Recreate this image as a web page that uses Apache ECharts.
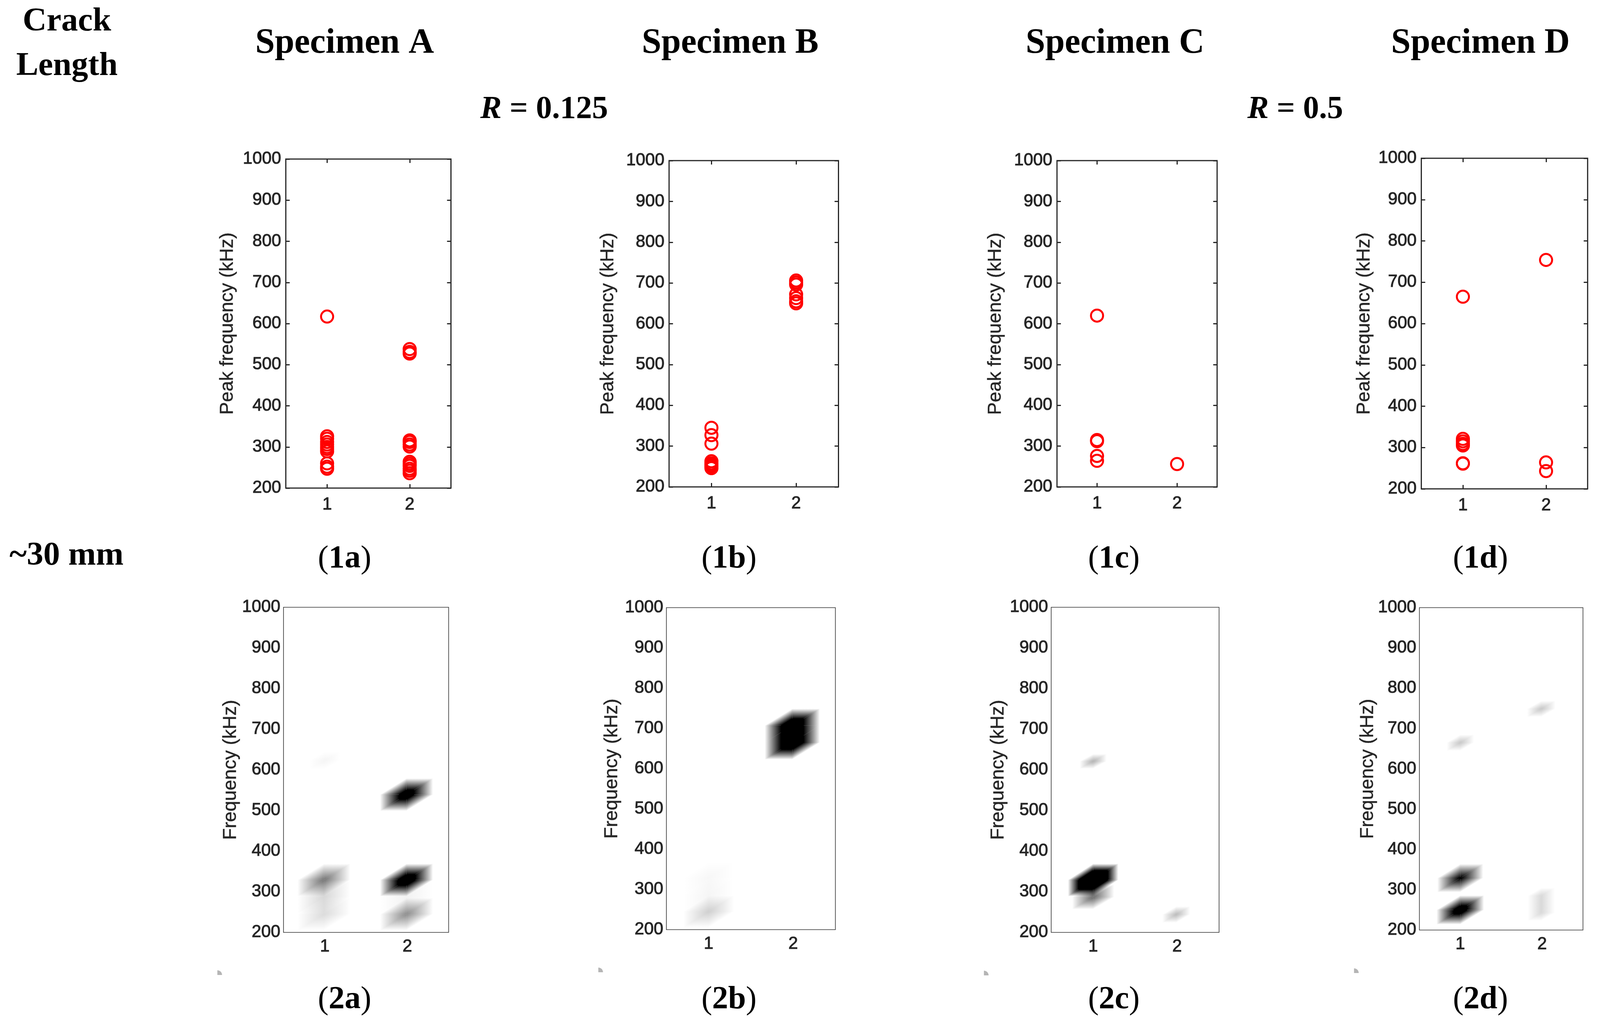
<!DOCTYPE html>
<html>
<head>
<meta charset="utf-8">
<style>html,body{margin:0;padding:0;background:#fff;overflow:hidden}#c{width:100vw;height:2623px}</style>
<script src="https://cdn.jsdelivr.net/npm/echarts@6/dist/echarts.min.js"></script>
</head>
<body>
<div id="c"></div>
<script>
// ---- data ----
const xTicks = [1, 2];
const specimens = ['Specimen A', 'Specimen B', 'Specimen C', 'Specimen D'];
const topCaptions = ['1a', '1b', '1c', '1d'];
const bottomCaptions = ['2a', '2b', '2c', '2d'];
const ratioLabels = ['0.125', '0.5'];
const crackLabels = ['Crack', 'Length', '~30 mm'];
const scatterYName = 'Peak frequency (kHz)';
const heatYName = 'Frequency (kHz)';

// peak frequency in kHz, per group 1 and group 2
const peaksA1 = [617, 326, 320, 312, 306, 300, 295, 289, 260, 252, 247];
const peaksA2 = [538, 531, 527, 316, 312, 306, 301, 264, 259, 254, 247, 242, 236];
const peaksB1 = [345, 327, 306, 263, 258, 254, 250, 246];
const peaksB2 = [706, 701, 696, 672, 663, 655, 650];
const peaksC1 = [620, 315, 312, 276, 264];
const peaksC2 = [256];
const peaksD1 = [665, 321, 315, 309, 305, 262, 261];
const peaksD2 = [754, 264, 243];

// density peaks: [group, kHz, level (above 1 = saturated), spread in group units, spread in kHz, ridge length in kHz]
const densityA = [[1, 623, 0.04, 0.19, 22, 0], [0.99, 329, 0.55, 0.32, 40, 0], [0.99, 287, 0.16, 0.32, 40, 0], [0.99, 245, 0.14, 0.32, 40, 0],
                  [1.99, 539, 1.4, 0.32, 40, 0], [1.99, 329, 1.5, 0.32, 40, 0], [1.99, 287, 0.05, 0.32, 40, 0], [1.99, 245, 0.45, 0.32, 40, 0]];
const densityB = [[1, 329, 0.03, 0.3, 40, 0], [1, 287, 0.04, 0.3, 40, 0], [1, 245, 0.19, 0.3, 40, 0],
                  [1.99, 665, 1.7, 0.326, 42, 42]];
const densityC = [[1, 621, 0.3, 0.16, 18, 0], [1, 329, 2.4, 0.3, 40, 0], [1, 287, 0.6, 0.25, 30, 0], [1.99, 244, 0.27, 0.165, 20, 0]];
const densityD = [[1, 665, 0.22, 0.167, 20, 0], [1, 329, 1.05, 0.28, 35, 0], [1, 250, 1.4, 0.29, 36, 0],
                  [1.99, 749, 0.22, 0.174, 20, 0], [1.99, 243, 0.15, 0.165, 20, 42]];

const scatterPeaks = [[peaksA1, peaksA2], [peaksB1, peaksB2], [peaksC1, peaksC2], [peaksD1, peaksD2]];
const densities = [densityA, densityB, densityC, densityD];

// ---- layout, in pixels of the 4137 wide reference; the browser window may be narrower ----
const W = Math.min(window.innerWidth, 4137);
const H = 2623;
const sx = W / 4137;
const scatterBoxes = [[739, 407, 427, 842], [1730, 411, 438, 835], [2733, 411, 414, 835], [3675, 405, 430, 846]];
const heatBoxes = [[733, 1554, 427, 832], [1723, 1555, 437, 824], [2718, 1554, 434, 832], [3670, 1555, 423, 825]];
const nameCx = [589, 1573, 2575, 3528];
const heatNameCx = [597, 1583, 2582, 3537];
const captionCx = [891, 1885, 2880, 3828];
const specimenCx = [891, 1888, 2883, 3828];
const smudges = [[562, 2495], [1547, 2488], [2544, 2496], [3501, 2490]];

const ink = '#262626';
const sansFont = '"Liberation Sans", Arial, sans-serif';
const serifFont = '"Liberation Serif", serif';

const grids = [], xAxes = [], yAxes = [], series = [];

function addPanel(box, labelMargin, xLabelMargin, name, nameCenter, framed) {
  const idx = grids.length;
  grids.push({left: box[0] * sx, top: box[1], width: box[2] * sx, height: box[3], show: true, containLabel: false,
    borderColor: framed ? ink : '#333', borderWidth: framed ? 3 : 1.6, backgroundColor: '#fff'});
  const tick = {show: framed, inside: true, length: 10, lineStyle: {color: ink, width: 3}, customValues: xTicks};
  const labelStyle = {fontFamily: sansFont, fontSize: 44, color: ink, textBorderColor: ink, textBorderWidth: 1.2};
  xAxes.push({gridIndex: idx, type: 'value', min: 0.5, max: 2.5, position: 'bottom', splitLine: {show: false}, axisLine: {show: false},
    axisTick: tick, axisLabel: Object.assign({customValues: xTicks, margin: xLabelMargin, formatter: v => String(v)}, labelStyle)});
  yAxes.push({gridIndex: idx, type: 'value', min: 200, max: 1000, interval: 100, position: 'left', splitLine: {show: false}, axisLine: {show: false},
    axisTick: {show: framed, inside: true, length: 10, lineStyle: {color: ink, width: 3}},
    axisLabel: Object.assign({margin: labelMargin, formatter: v => String(v)}, labelStyle),
    name: name, nameLocation: 'middle', nameGap: (box[0] - nameCenter) * sx - 24, nameMoveOverlap: false, nameRotate: 90,
    nameTextStyle: {fontFamily: sansFont, fontSize: 48.5, color: ink, textBorderColor: ink, textBorderWidth: 0.6}});
  if (framed) {
    xAxes.push({gridIndex: idx, type: 'value', min: 0.5, max: 2.5, position: 'top', splitLine: {show: false}, axisLine: {show: false},
      axisTick: tick, axisLabel: {show: false}});
    yAxes.push({gridIndex: idx, type: 'value', min: 200, max: 1000, interval: 100, position: 'right', splitLine: {show: false}, axisLine: {show: false},
      axisTick: {show: true, inside: true, length: 10, lineStyle: {color: ink, width: 3}}, axisLabel: {show: false}});
  }
  return [xAxes.length - (framed ? 2 : 1), yAxes.length - (framed ? 2 : 1)];
}

// A density peak is a small triangle mesh: the value is 1 on its centre (or ridge) and 0 on the outer ring,
// and falls linearly over each triangle, so one linear gradient per triangle reproduces it.
function triangleGradient(a, b, c, va, vb, vc, level) {
  const e1 = [b[0] - a[0], b[1] - a[1]], e2 = [c[0] - a[0], c[1] - a[1]];
  const det = e1[0] * e2[1] - e1[1] * e2[0];
  if (Math.abs(det) < 1e-6) return null;
  const d1 = vb - va, d2 = vc - va;
  const gx = (d1 * e2[1] - d2 * e1[1]) / det, gy = (d2 * e1[0] - d1 * e2[0]) / det;
  const g2 = gx * gx + gy * gy;
  const ux = gx / g2, uy = gy / g2;
  const p0 = [a[0] - va * ux, a[1] - va * uy], p1 = [p0[0] + ux, p0[1] + uy];
  const stops = [{offset: 0, color: 'rgba(0,0,0,0)'}];
  if (level > 1) stops.push({offset: 1 / level, color: 'rgba(0,0,0,1)'});
  stops.push({offset: 1, color: 'rgba(0,0,0,' + Math.min(1, level) + ')'});
  return {type: 'linear', x: p0[0], y: p0[1], x2: p1[0], y2: p1[1], colorStops: stops, global: true};
}
function renderDensity(params, api) {
  const gx = api.value(0), f1 = api.value(1), level = api.value(2), sX = api.value(3), sF = api.value(4), h = api.value(5);
  const f2 = f1 + h;
  const P = (x, f) => api.coord([x, f]);
  const V1 = P(gx, f1), V2 = P(gx, f2);
  const R1 = P(gx + sX, f1), R2 = P(gx + sX, f2), R3 = P(gx + sX, f2 + sF);
  const U = P(gx, f2 + sF), L2 = P(gx - sX, f2), L1 = P(gx - sX, f1), L0 = P(gx - sX, f1 - sF), D = P(gx, f1 - sF);
  const tris = h
    ? [[V1, R1, R2, 1, 0, 0], [V1, R2, V2, 1, 0, 1], [V2, R2, R3, 1, 0, 0], [V2, R3, U, 1, 0, 0], [V2, U, L2, 1, 0, 0],
       [V2, L2, L1, 1, 0, 0], [V2, L1, V1, 1, 0, 1], [V1, L1, L0, 1, 0, 0], [V1, L0, D, 1, 0, 0], [V1, D, R1, 1, 0, 0]]
    : [[V1, R1, R3, 1, 0, 0], [V1, R3, U, 1, 0, 0], [V1, U, L1, 1, 0, 0], [V1, L1, L0, 1, 0, 0], [V1, L0, D, 1, 0, 0], [V1, D, R1, 1, 0, 0]];
  const children = [];
  tris.forEach(t => {
    const grad = triangleGradient(t[0], t[1], t[2], t[3], t[4], t[5], level);
    if (grad) children.push({type: 'polygon', silent: true, shape: {points: [t[0], t[1], t[2]]}, style: {fill: grad}});
  });
  if (level > 1) {
    // the saturated core is solid, which also closes the seams between triangles
    const k = 1 - 1 / level;
    const at = (a, b) => [a[0] + (b[0] - a[0]) * k, a[1] + (b[1] - a[1]) * k];
    const core = h
      ? [at(V1, R1), at(V1, R2), at(V2, R2), at(V2, R3), at(V2, U), at(V2, L2), at(V2, L1), at(V1, L1), at(V1, L0), at(V1, D)]
      : [at(V1, R1), at(V1, R3), at(V1, U), at(V1, L1), at(V1, L0), at(V1, D)];
    children.push({type: 'polygon', silent: true, shape: {points: core}, style: {fill: '#000'}});
  }
  return {type: 'group', children};
}

scatterBoxes.forEach((box, i) => {
  const [xi, yi] = addPanel(box, 12, 21, scatterYName, nameCx[i], true);
  scatterPeaks[i].forEach((vals, g) => {
    series.push({type: 'scatter', xAxisIndex: xi, yAxisIndex: yi, symbol: 'circle', symbolSize: 31, silent: true,
      itemStyle: {color: 'rgba(0,0,0,0)', borderColor: '#ff0000', borderWidth: 5, opacity: 1},
      data: vals.map(v => [g + 1, v])});
  });
});
heatBoxes.forEach((box, i) => {
  const [xi, yi] = addPanel(box, 8, 15, heatYName, heatNameCx[i], false);
  series.push({type: 'custom', xAxisIndex: xi, yAxisIndex: yi, coordinateSystem: 'cartesian2d', silent: true, clip: true,
    encode: {x: 0, y: 1}, renderItem: renderDensity, data: densities[i]});
});

// ---- captions ----
const graphic = [];
function caption(cx, cy, text, size, rich) {
  graphic.push({type: 'text', x: cx * sx, y: cy, z: 10, silent: true,
    style: {text, textAlign: 'center', textVerticalAlign: 'middle', verticalAlign: 'middle', align: 'center', fill: '#000',
      font: 'bold ' + size + 'px ' + serifFont, rich}});
}
const titleSize = 90, sideSize = 85, labelSize = 82;
const richParts = {
  n: {font: 'bold ' + labelSize + 'px ' + serifFont, fill: '#000'},
  r: {font: labelSize + 'px ' + serifFont, fill: '#000'},
  i: {font: 'italic bold ' + labelSize + 'px ' + serifFont, fill: '#000'}
};
caption(173, 56, crackLabels[0], sideSize);
caption(173, 170, crackLabels[1], sideSize);
caption(172, 1423, crackLabels[2], sideSize);
specimens.forEach((s, i) => caption(specimenCx[i], 112, s, titleSize));
caption(1407, 281, '{i|R}{n| = ' + ratioLabels[0] + '}', labelSize, richParts);
caption(3349, 281, '{i|R}{n| = ' + ratioLabels[1] + '}', labelSize, richParts);
topCaptions.forEach((s, i) => caption(captionCx[i], 1431, '{r|(}{n|' + s + '}{r|)}', labelSize, richParts));
bottomCaptions.forEach((s, i) => caption(captionCx[i], 2559, '{r|(}{n|' + s + '}{r|)}', labelSize, richParts));
smudges.forEach(p => graphic.push({type: 'sector', silent: true, z: 10,
  shape: {cx: p[0] * sx, cy: p[1], r: 12, r0: 0, startAngle: -Math.PI / 2, endAngle: 0, clockwise: true},
  style: {fill: '#b5b5b5'}}));

const chart = echarts.init(document.getElementById('c'), null, {renderer: 'canvas', width: W, height: H, devicePixelRatio: 1});
chart.setOption({animation: false, backgroundColor: '#ffffff', grid: grids, xAxis: xAxes, yAxis: yAxes, series, graphic});
</script>
</body>
</html>
